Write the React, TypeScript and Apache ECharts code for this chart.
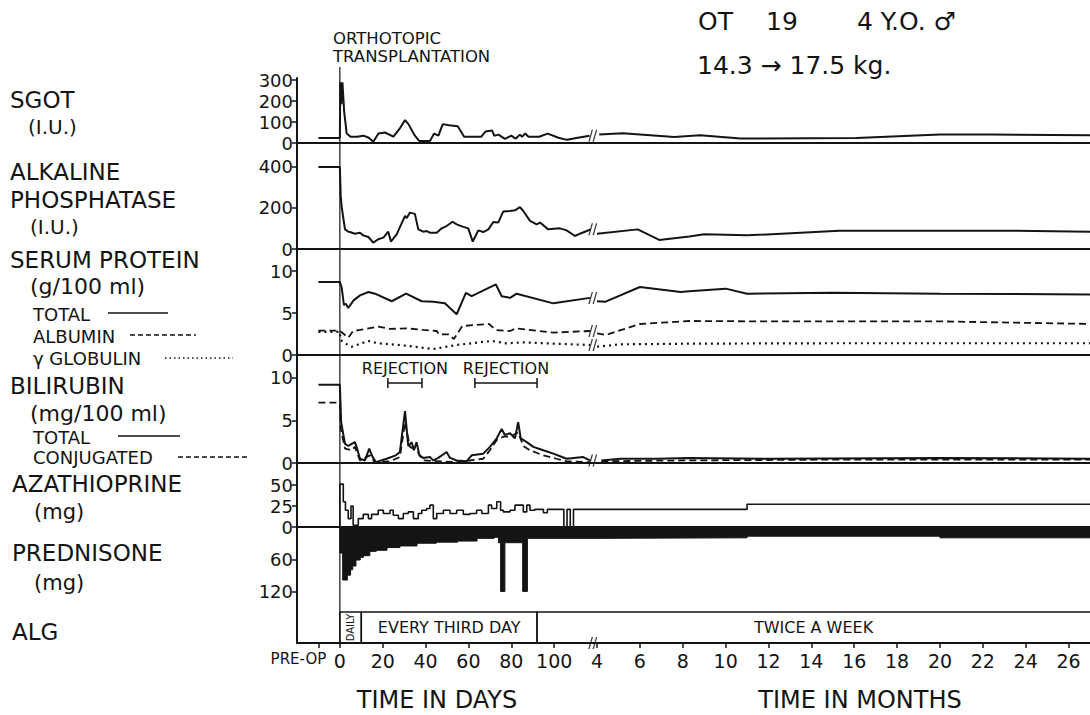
import React, { useEffect, useRef } from "react";
import * as echarts from "echarts";

const FONT = "DejaVu Sans";
const INK = "#141414";

// ---- x scale: days as they are, months on a compressed scale after the break ----
const PRE_OP_DAY = -10;
const X_MIN = -20;
const X_MAX = 350;
const BREAK_POS = 118;
const DAY_TICKS = [0, 20, 40, 60, 80, 100];
const MONTH_TICKS = [4, 6, 8, 10, 12, 14, 16, 18, 20, 22, 24, 26];
const monthPos = (m: number) => 120 + (m - 4) * 10;

// ---- SGOT (I.U.) ----
const sgotPreOp = 24;
const sgotDays: number[][] = [
  [0.2, 290], [0.7, 185], [1.2, 290], [2.0, 150], [3.2, 45], [5, 30], [8, 30], [11, 35], [13.5, 25],
  [15.6, 6], [18, 45], [21, 50], [25, 30], [28, 70], [30.4, 109], [32, 90], [35, 35], [37, 10], [42, 10],
  [44, 45], [46, 35], [48, 90], [51, 85], [55, 80], [58, 30], [66, 30], [68, 55], [71, 60], [72, 35],
  [74, 40], [77, 20], [80, 35], [82, 20], [84, 40], [85, 30], [86.5, 45], [88, 30], [93, 30], [97, 45],
  [102, 25], [106, 15], [111, 25], [116.5, 35],
];
const sgotMonths: number[][] = [
  [4.1, 40], [5.2, 47], [7.6, 29], [8.8, 37], [10.7, 21], [16.1, 24], [20, 40], [22.3, 40], [27, 37],
];

// ---- Alkaline phosphatase (I.U.) ----
const alkPreOp = 397;
const alkDays: number[][] = [
  [0.4, 257], [0.8, 208], [1.6, 150], [2.4, 95], [3.9, 84], [4.7, 82], [7.0, 74], [9.4, 79], [10.9, 66],
  [13.3, 58], [15.6, 31], [17.9, 47], [20.3, 55], [22.6, 84], [23.8, 36], [26.5, 71], [30.4, 160],
  [31.2, 150], [32.7, 176], [35.0, 170], [36.6, 95], [38.9, 84], [40.5, 87], [42.0, 79], [45.2, 79],
  [47.5, 100], [49.8, 111], [52.6, 132], [54.5, 119], [57.6, 107], [59.9, 100], [62.0, 36], [64.6, 90],
  [66.9, 82], [69.3, 95], [71.6, 131], [73.9, 128], [76.2, 181], [79.4, 184], [81.7, 187], [84.0, 203],
  [85.6, 184], [88.7, 136], [90.3, 128], [91.8, 119], [93.4, 128], [97.2, 95], [102.7, 100], [105.8, 90],
  [109.7, 63], [112.0, 74], [115.2, 87], [117, 95],
];
const alkMonths: number[][] = [
  [4.0, 74], [5.9, 95], [6.9, 44], [8.3, 60], [9.0, 71], [11.0, 66], [15.3, 88], [23.4, 88], [27, 84],
];

// ---- Serum protein (g/100 ml) ----
const totalProteinPreOp = 8.7;
const totalProteinDays: number[][] = [
  [0.8, 8.1], [1.9, 5.95], [2.8, 6.1], [3.9, 5.6], [6.4, 6.5], [9.4, 7.1], [13.3, 7.5], [16.4, 7.3],
  [24.2, 6.4], [30.9, 7.3], [38.2, 6.4], [43.6, 6.35], [49, 6.15], [54.5, 4.85], [58.8, 7.4], [61.5, 7.0],
  [72.8, 8.4], [75.5, 7.0], [79.4, 6.8], [82.5, 7.3], [99.6, 6.15], [116.7, 6.8],
];
const totalProteinMonths: number[][] = [
  [4.0, 6.4], [4.4, 6.35], [6.0, 8.1], [7.9, 7.5], [8.3, 7.6], [10, 7.9], [11, 7.3], [15, 7.4], [20, 7.3], [27, 7.2],
];
const albuminPreOp = 2.9;
const albuminDays: number[][] = [
  [0.8, 2.7], [3.9, 2.06], [6.2, 2.86], [9.4, 2.98], [17.9, 3.37], [23.4, 3.1], [31.2, 3.17], [38.9, 2.98],
  [45.2, 2.86], [46.2, 2.46], [50.8, 2.46], [53.2, 1.9], [57.1, 3.45], [69.6, 3.69], [72.7, 2.98],
  [79.4, 2.86], [82, 3.17], [99.6, 2.66], [116.7, 2.86],
];
const albuminMonths: number[][] = [
  [4.0, 2.58], [4.4, 2.38], [6.0, 3.69], [8.3, 4.05], [12, 4.0], [20, 4.0], [27, 3.7],
];
const globulinPreOp = 2.75;
const globulinDays: number[][] = [
  [0.3, 1.79], [2.4, 1.39], [5.5, 0.99], [13.3, 1.67], [17.9, 1.39], [28, 1.19], [43.6, 0.71], [54.5, 1.19],
  [70.8, 1.67], [77.8, 1.39], [85.6, 1.5], [116.7, 1.19],
];
const globulinMonths: number[][] = [
  [4.0, 0.99], [5.1, 1.27], [8.3, 1.35], [15, 1.4], [27, 1.4],
];

// ---- Bilirubin (mg/100 ml) ----
const bilTotalPreOp = 9.2;
const bilTotalDays: number[][] = [
  [0.6, 4.8], [2.4, 2.25], [3.9, 2.0], [5.5, 2.25], [7.0, 2.45], [7.8, 1.9], [9.4, 0.5], [11.7, 0.3],
  [13.7, 1.7], [15.3, 0.7], [16.8, 0.1], [21.8, 0.5], [26.1, 0.9], [28.0, 1.3], [30.4, 6.1], [31.9, 2.0],
  [33.5, 2.45], [34.6, 1.5], [35.8, 2.45], [37.1, 0.9], [38.9, 0.6], [42.0, 0.7], [43.6, 0.3], [45.9, 0.6],
  [49.8, 1.3], [51.4, 0.6], [54.5, 0.3], [59.1, 0.2], [61.5, 0.9], [66.9, 1.1], [70.0, 1.9], [73.2, 2.9],
  [75.5, 4.0], [77.0, 3.3], [79.4, 3.5], [81.7, 2.9], [83.2, 4.8], [84.4, 2.9], [87.2, 2.45], [90.3, 1.9],
  [94.9, 1.5], [99.6, 1.1], [105.8, 0.5], [113.6, 0.7], [116.7, 0.3],
];
const bilTotalMonths: number[][] = [
  [4.2, 0.3], [5.1, 0.5], [6.8, 0.5], [8.3, 0.6], [12, 0.5], [20, 0.6], [27, 0.5],
];
const bilConjPreOp = 7.1;
const bilConjDays: number[][] = [
  [0.4, 4.0], [2.4, 1.7], [5.5, 1.5], [7.0, 1.9], [9.4, 0.3], [14.0, 0.9], [16.2, 0.1], [23.4, 0.2],
  [28, 0.7], [30.4, 4.8], [32.7, 1.9], [35.8, 1.5], [38.9, 0.3], [54.5, 0.1], [66.9, 0.5], [70.0, 1.5],
  [73.2, 2.7], [76.3, 3.1], [79.4, 3.1], [83.2, 3.6], [85.6, 2.0], [88.7, 1.5], [94.9, 0.9], [101.1, 0.5],
  [105.8, 0.2], [116.7, 0.1],
];
const bilConjMonths: number[][] = [
  [4.2, 0.2], [8, 0.3], [15, 0.4], [27, 0.4],
];
const rejectionSpans: number[][] = [[22.4, 38.3], [63, 92]];
const rejectionLabels = ["REJECTION", "REJECTION"];

// ---- Azathioprine (mg), each point holds until the next ----
const azaDays: number[][] = [
  [0, 0], [0, 51], [1.6, 30], [2.6, 20], [3.9, 10], [5.2, 25], [6.2, 2], [8.6, 10], [10.9, 15], [13.3, 10],
  [14.8, 15], [17.9, 20], [20.3, 16], [23.4, 20], [24.9, 14], [27.3, 10], [29.6, 16], [31.9, 18], [34.3, 10],
  [36.6, 16], [38.2, 20], [40.5, 22], [42.0, 26], [43.6, 10], [45.2, 16], [48.3, 20], [51.4, 16], [54.5, 20],
  [57.6, 15], [60.7, 16], [63.8, 20], [66.2, 16], [69.3, 26], [70.8, 22], [73.2, 30], [75.0, 20], [76.3, 18],
  [79.4, 20], [81.7, 26], [85.6, 18], [87.2, 26], [88.7, 20], [91.0, 21], [95.0, 17], [96.8, 21], [104.5, 0],
  [106, 21], [107.5, 0], [109, 21],
];
const azaMonths: number[][] = [[4, 21], [11, 27], [27, 27]];

// ---- Prednisone (mg), each point holds until the next ----
const predDays: number[][] = [
  [0, 0], [0, 48], [1.3, 98], [3.5, 89], [5, 79], [6, 72], [7.5, 61], [9.5, 56], [11, 53], [14, 45], [17, 43],
  [22, 38], [28, 35], [36, 30], [45, 28], [55, 26], [64, 21], [72, 19], [74, 29], [75, 119], [77, 29],
  [85.3, 119], [87.5, 21],
];
const predMonths: number[][] = [[4, 20], [11, 17], [20, 20], [27, 20]];

// ---- ALG schedule (the last period runs on past the right edge) ----
const algSpans: number[][] = [[0, 10], [10, 92], [92, X_MAX + 5]];
const algLabels = ["DAILY", "EVERY THIRD DAY", "TWICE A WEEK"];

// ---- y ticks ----
const sgotTicks = [0, 100, 200, 300];
const alkTicks = [0, 200, 400];
const proteinTicks = [0, 5, 10];
const bilTicks = [0, 5, 10];
const azaTicks = [0, 25, 50];
const predTicks = [60, 120];

const withPreOp = (pre: number, days: number[][]) => [[PRE_OP_DAY, pre], [0, pre], ...days];
const toMonthPos = (ms: number[][]) => ms.map(([m, v]) => [monthPos(m), v]);
const last = (a: number[][]) => a[a.length - 1][1];

const GRIDS = [
  { top: 78, height: 65 },
  { top: 143, height: 106 },
  { top: 249, height: 106 },
  { top: 355, height: 108 },
  { top: 463, height: 64 },
  { top: 527, height: 85 },
  { top: 612, height: 31 },
];
const Y_RANGES = [
  { max: 310, ticks: sgotTicks },
  { max: 513, ticks: alkTicks },
  { max: 12.62, ticks: proteinTicks },
  { max: 12.7, ticks: bilTicks },
  { max: 76.2, ticks: azaTicks },
  { max: 157, ticks: predTicks, inverse: true },
  { max: 1, ticks: [] as number[] },
];

const BREAK_SYMBOL = "path://M0,12 L4,0 L5.6,0 L1.6,12 Z M5,12 L9,0 L10.6,0 L6.6,12 Z";

function lineSeries(grid: number, data: number[][], extra: any = {}) {
  return {
    type: "line",
    xAxisIndex: grid,
    yAxisIndex: grid,
    data,
    symbol: "none",
    silent: true,
    lineStyle: { color: INK, width: 2, ...(extra.lineStyle || {}) },
    ...Object.fromEntries(Object.entries(extra).filter(([k]) => k !== "lineStyle")),
  };
}

function breakSeries(grid: number, values: number[]) {
  return {
    type: "scatter",
    xAxisIndex: grid,
    yAxisIndex: grid,
    data: values.map((v) => [BREAK_POS, v]),
    symbol: BREAK_SYMBOL,
    symbolSize: [9, 12],
    itemStyle: { color: INK },
    silent: true,
    clip: false,
  };
}

function buildOption(): any {
  const bottomTicks = [PRE_OP_DAY, ...DAY_TICKS, ...MONTH_TICKS.map(monthPos)];
  const xAxis = GRIDS.map((_, i) => ({
    type: "value",
    gridIndex: i,
    min: X_MIN,
    max: X_MAX,
    axisLine: { show: i !== 5, onZero: false, lineStyle: { color: INK, width: 2 } },
    axisTick: i === 6
      ? { show: true, customValues: bottomTicks, length: 5, lineStyle: { color: INK, width: 1.5 } }
      : { show: false },
    axisLabel: i === 6
      ? {
          show: true,
          customValues: bottomTicks,
          color: INK,
          fontFamily: FONT,
          fontSize: 19,
          margin: 8,
          formatter: (v: number) =>
            v < 0 ? "{s|PRE-OP}" : v <= 100 ? String(v) : String(Math.round((v - 120) / 10 + 4)),
          rich: { s: { fontFamily: FONT, fontSize: 15, color: INK, padding: [0, 40, 0, 0] } },
        }
      : { show: false },
    splitLine: { show: false },
  }));
  const yAxis = GRIDS.map((_, i) => ({
    type: "value",
    gridIndex: i,
    min: 0,
    max: Y_RANGES[i].max,
    inverse: !!(Y_RANGES[i] as any).inverse,
    axisLine: { show: true, onZero: false, lineStyle: { color: INK, width: 2 } },
    axisTick: Y_RANGES[i].ticks.length
      ? { show: true, customValues: Y_RANGES[i].ticks, length: 5, lineStyle: { color: INK, width: 1.5 } }
      : { show: false },
    axisLabel: Y_RANGES[i].ticks.length
      ? { show: true, customValues: Y_RANGES[i].ticks, color: INK, fontFamily: FONT, fontSize: 18, margin: 4 }
      : { show: false },
    splitLine: { show: false },
  }));

  const dashed = { lineStyle: { type: [7, 4], width: 1.8 } };
  const dotted = { lineStyle: { type: [2, 4], width: 2.2 } };

  const series: any[] = [
    lineSeries(0, withPreOp(sgotPreOp, sgotDays)),
    lineSeries(0, toMonthPos(sgotMonths)),
    breakSeries(0, [last(sgotDays)]),

    lineSeries(1, withPreOp(alkPreOp, alkDays)),
    lineSeries(1, toMonthPos(alkMonths)),
    breakSeries(1, [last(alkDays)]),

    lineSeries(2, withPreOp(totalProteinPreOp, totalProteinDays)),
    lineSeries(2, toMonthPos(totalProteinMonths)),
    lineSeries(2, withPreOp(albuminPreOp, albuminDays), dashed),
    lineSeries(2, toMonthPos(albuminMonths), dashed),
    lineSeries(2, withPreOp(globulinPreOp, globulinDays), dotted),
    lineSeries(2, toMonthPos(globulinMonths), dotted),
    breakSeries(2, [last(totalProteinDays), last(albuminDays), last(globulinDays)]),

    lineSeries(3, withPreOp(bilTotalPreOp, bilTotalDays)),
    lineSeries(3, toMonthPos(bilTotalMonths)),
    lineSeries(3, withPreOp(bilConjPreOp, bilConjDays), dashed),
    lineSeries(3, toMonthPos(bilConjMonths), dashed),
    breakSeries(3, [last(bilTotalDays)]),
    {
      type: "custom",
      xAxisIndex: 3,
      yAxisIndex: 3,
      data: rejectionSpans,
      encode: { x: [0, 1] },
      silent: true,
      renderItem: (params: any, api: any) => {
        const s = api.value(0);
        const e = api.value(1);
        const a = api.coord([s, 9.4]);
        const b = api.coord([e, 9.4]);
        const t = api.coord([(s + e) / 2, 11.1]);
        const st = { stroke: INK, lineWidth: 1.5 };
        return {
          type: "group",
          children: [
            { type: "line", shape: { x1: a[0], y1: a[1], x2: b[0], y2: b[1] }, style: st },
            { type: "line", shape: { x1: a[0], y1: a[1] - 5, x2: a[0], y2: a[1] + 5 }, style: st },
            { type: "line", shape: { x1: b[0], y1: b[1] - 5, x2: b[0], y2: b[1] + 5 }, style: st },
            {
              type: "text",
              style: {
                text: rejectionLabels[params.dataIndex],
                x: t[0],
                y: t[1],
                textAlign: "center",
                textVerticalAlign: "middle",
                fontFamily: FONT,
                fontSize: 16,
                fill: INK,
              },
            },
          ],
        };
      },
    },

    lineSeries(4, [...azaDays, ...toMonthPos(azaMonths)], { step: "end", lineStyle: { width: 1.6 } }),

    lineSeries(5, [...predDays, ...toMonthPos(predMonths)], {
      step: "end",
      lineStyle: { width: 1 },
      areaStyle: { color: INK, opacity: 1 },
    }),

    {
      type: "custom",
      xAxisIndex: 6,
      yAxisIndex: 6,
      data: algSpans,
      encode: { x: [0, 1] },
      silent: true,
      renderItem: (params: any, api: any) => {
        const s = api.value(0);
        const e = api.value(1);
        const p1 = api.coord([s, 1]);
        const p2 = api.coord([e, 0]);
        const right = Math.min(p2[0], api.getWidth());
        const cx = (p1[0] + right) / 2;
        const cy = (p1[1] + p2[1]) / 2;
        const label = algLabels[params.dataIndex];
        const vertical = p2[0] - p1[0] < 40;
        return {
          type: "group",
          children: [
            {
              type: "rect",
              shape: { x: p1[0], y: p1[1], width: p2[0] - p1[0], height: p2[1] - p1[1] },
              style: { fill: "none", stroke: INK, lineWidth: 1.5 },
            },
            {
              type: "text",
              x: cx,
              y: cy,
              rotation: vertical ? Math.PI / 2 : 0,
              style: {
                text: label,
                x: 0,
                y: 0,
                textAlign: "center",
                textVerticalAlign: "middle",
                fontFamily: FONT,
                fontSize: vertical ? 10 : 16,
                fill: INK,
              },
            },
          ],
        };
      },
    },
    breakSeries(6, [0]),
  ];

  return {
    animation: false,
    backgroundColor: "#ffffff",
    grid: GRIDS.map((g) => ({ left: 297, right: 0, top: g.top, height: g.height })),
    xAxis,
    yAxis,
    series,
  };
}

function txt(text: string, x: number, y: number, fontSize: number, align = "left") {
  return {
    type: "text",
    x,
    y,
    silent: true,
    style: { text, fontFamily: FONT, fontSize, fill: INK, textAlign: align, textVerticalAlign: "middle" },
  };
}
function seg(x1: number, x2: number, y: number, dash?: number[]) {
  return {
    type: "line",
    silent: true,
    shape: { x1, y1: y, x2, y2: y },
    style: { stroke: INK, lineWidth: 1.5, lineDash: dash },
  };
}

export default function App() {
  const ref = useRef<HTMLDivElement>(null);
  useEffect(() => {
    const chart = echarts.init(ref.current!, null, { renderer: "svg" });
    chart.setOption(buildOption());
    const x0 = chart.convertToPixel({ xAxisIndex: 0 }, 0) as number;
    chart.setOption({
      graphic: [
        { type: "line", silent: true, shape: { x1: x0, y1: 67, x2: x0, y2: 643 }, style: { stroke: INK, lineWidth: 1.2 } },
        txt("ORTHOTOPIC", 333, 38, 16.5),
        txt("TRANSPLANTATION", 333, 56, 16.5),
        txt("OT", 698, 21, 25),
        txt("19", 766, 21, 25),
        txt("4 Y.O. ♂", 857, 21, 25),
        txt("14.3 → 17.5 kg.", 697, 65, 25),

        txt("SGOT", 10, 100, 23),
        txt("(I.U.)", 28, 127, 20),
        txt("ALKALINE", 10, 172, 23),
        txt("PHOSPHATASE", 10, 200, 23),
        txt("(I.U.)", 30, 227, 20),
        txt("SERUM PROTEIN", 10, 260, 23),
        txt("(g/100 ml)", 30, 286, 22),
        txt("TOTAL", 33, 314, 18),
        seg(108, 168, 313),
        txt("ALBUMIN", 33, 336, 18),
        seg(130, 196, 335, [5, 3]),
        txt("γ GLOBULIN", 33, 358, 18),
        seg(165, 233, 358, [1.5, 3]),
        txt("BILIRUBIN", 10, 386, 23),
        txt("(mg/100 ml)", 30, 413, 22),
        txt("TOTAL", 33, 437, 18),
        seg(118, 180, 436),
        txt("CONJUGATED", 33, 457, 18),
        seg(178, 247, 457, [5, 3]),
        txt("AZATHIOPRINE", 12, 484, 23),
        txt("(mg)", 34, 512, 21),
        txt("PREDNISONE", 12, 553, 23),
        txt("(mg)", 34, 583, 21),
        txt("ALG", 12, 632, 23),

        txt("TIME IN DAYS", 437, 700, 24, "center"),
        txt("TIME IN MONTHS", 860, 700, 24, "center"),
      ],
    });
    return () => chart.dispose();
  }, []);
  return (
    <div
      ref={ref}
      style={{ position: "fixed", left: 0, top: 0, width: 1090, height: 715, background: "#fff" }}
    />
  );
}
